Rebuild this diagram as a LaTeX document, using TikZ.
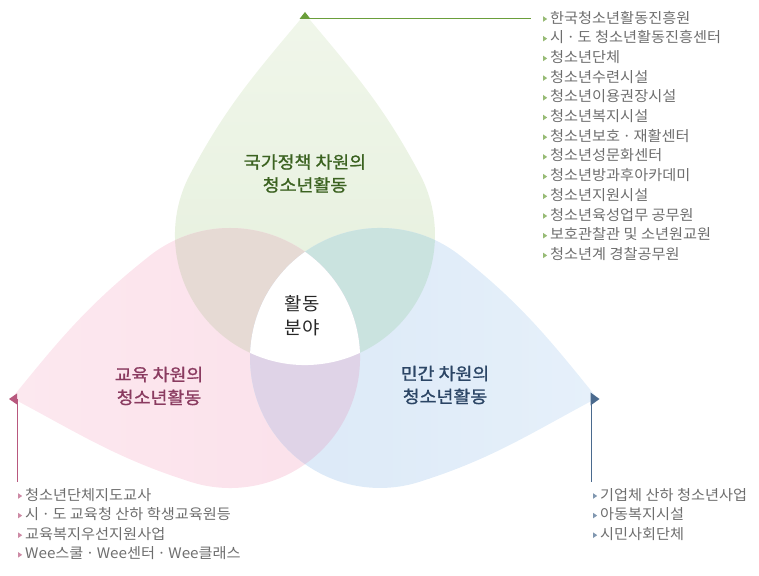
\documentclass[tikz,border=0pt]{standalone}
\usepackage{fontspec}
\setmainfont{Noto Sans CJK KR}[FakeStretch=1.05]
\newfontfamily\krbold{Noto Sans CJK KR}[FakeBold=1.2, FakeStretch=1.08]
\usetikzlibrary{calc}
\definecolor{cgreen}{HTML}{6A9E3A}
\definecolor{cpink}{HTML}{B8587E}
\definecolor{cblue}{HTML}{4A6A8E}
\definecolor{cgreentop}{HTML}{F0F6EA}
\definecolor{cgreenlow}{HTML}{E4EFDB}
\definecolor{cpinktip}{HTML}{FCE8EF}
\definecolor{cpinkfill}{HTML}{FBE0EA}
\definecolor{cbluetip}{HTML}{E6F0FA}
\definecolor{cbluefill}{HTML}{DAE8F7}
\definecolor{cgp}{HTML}{E6DAD4}
\definecolor{cgb}{HTML}{CAE3DF}
\definecolor{cpb}{HTML}{DFD3E7}
\definecolor{cgreentext}{HTML}{3B6220}
\definecolor{cpinktext}{HTML}{8A3B60}
\definecolor{cbluetext}{HTML}{2B4565}
\definecolor{cgrey}{HTML}{6E6E6E}
\tikzset{
  every picture/.style={x=1pt, y=1pt},
  title/.style={font=\krbold\fontsize{17}{23}\selectfont, align=center, text=#1},
  listitem/.style={font=\fontsize{14.5}{16}\selectfont, text=cgrey, anchor=west, inner sep=0pt, text height=11pt, text depth=2.8pt},
  guide/.style={draw=#1, line width=1pt},
}
% the three drops: tip, side, back of the circle, side, tip
\newcommand\greendrop{(305,561) to[out=230, in=62] (190.2,401.0) arc[start angle=152, end angle=388, radius=130] to[out=118, in=-50] (305,561)}
\newcommand\pinkdrop{(12,177) to[out=-28, in=162.4] (190.7,93.1) arc[start angle=252.4, end angle=488.4, radius=130] to[out=218.4, in=51] (12,177)}
\newcommand\bluedrop{(597,177) to[out=129, in=-38.4] (460.8,318.9) arc[start angle=51.6, end angle=287.6, radius=130] to[out=17.6, in=208] (597,177)}
\newcommand\listbullet[2]{\fill[#1] ($(#2.west)+(-7,-2.8)$) -- ++(4.2,2.8) -- ++(-4.2,2.8) -- cycle;}

\begin{document}
\begin{tikzpicture}
  \useasboundingbox (0,0) rectangle (759,575);
  \shade[top color=cgreentop, bottom color=cgreenlow] \greendrop;
  \shade[left color=cpinktip, right color=cpinkfill] \pinkdrop;
  \shade[right color=cbluetip, left color=cbluefill] \bluedrop;
  % overlaps
  \begin{scope} \clip \greendrop; \fill[cgp] \pinkdrop; \end{scope}
  \begin{scope} \clip \greendrop; \fill[cgb] \bluedrop; \end{scope}
  \begin{scope} \clip \pinkdrop; \fill[cpb] \bluedrop; \end{scope}
  \begin{scope} \clip \greendrop; \clip \pinkdrop; \fill[white] \bluedrop; \end{scope}

  \node[title=cgreentext] (gtitle) at (305,401.5) {국가정책 차원의\\청소년활동};
  \node[title=cpinktext] (ptitle) at (159,189) {교육 차원의\\청소년활동};
  \node[title=cbluetext] (btitle) at (445,190) {민간 차원의\\청소년활동};
  \node[font=\fontsize{18}{24}\selectfont, align=center, text=black!85] (core) at (302,259) {활동\\분야};

  % guides from the tips to the lists
  \coordinate (gtip) at (305,556);
  \coordinate (gend) at (531,556);
  \draw[guide=cgreen] (gtip) -- (gend);
  \fill[cgreen] (gtip) ++(-5.5,0) -- ++(11,0) -- ++(-5.5,7) -- cycle;
  \coordinate (ptip) at (17,176);
  \coordinate (pend) at (17,93);
  \draw[guide=cpink] (ptip) -- (pend);
  \fill[cpink] (ptip) ++(0,-5.5) -- ++(0,11) -- ++(-8,-5.5) -- cycle;
  \coordinate (btip) at (591,176);
  \coordinate (bend) at (591,93);
  \draw[guide=cblue] (btip) -- (bend);
  \fill[cblue] (btip) ++(-0.5,-6.5) -- ++(0,13) -- ++(9,-6.5) -- cycle;

  \foreach \txt [count=\i from 0] in {한국청소년활동진흥원, 시\,·\,도 청소년활동진흥센터, 청소년단체, 청소년수련시설, 청소년이용권장시설, 청소년복지시설, 청소년보호\,·\,재활센터, 청소년성문화센터, 청소년방과후아카데미, 청소년지원시설, 청소년육성업무 공무원, 보호관찰관 및 소년원교원, 청소년계 경찰공무원} {
    \node[listitem] (gitem\i) at (550, 556-19.7*\i) {\txt};
    \listbullet{cgreen!70}{gitem\i}
  }
  \foreach \txt [count=\i from 0] in {청소년단체지도교사, 시\,·\,도 교육청 산하 학생교육원등, 교육복지우선지원사업, Wee스쿨\,·\,Wee센터\,·\,Wee클래스} {
    \node[listitem] (pitem\i) at (25, 79-19.6*\i) {\txt};
    \listbullet{cpink!70}{pitem\i}
  }
  \foreach \txt [count=\i from 0] in {기업체 산하 청소년사업, 아동복지시설, 시민사회단체} {
    \node[listitem] (bitem\i) at (600, 79-19.6*\i) {\txt};
    \listbullet{cblue!70}{bitem\i}
  }
\end{tikzpicture}
\end{document}
